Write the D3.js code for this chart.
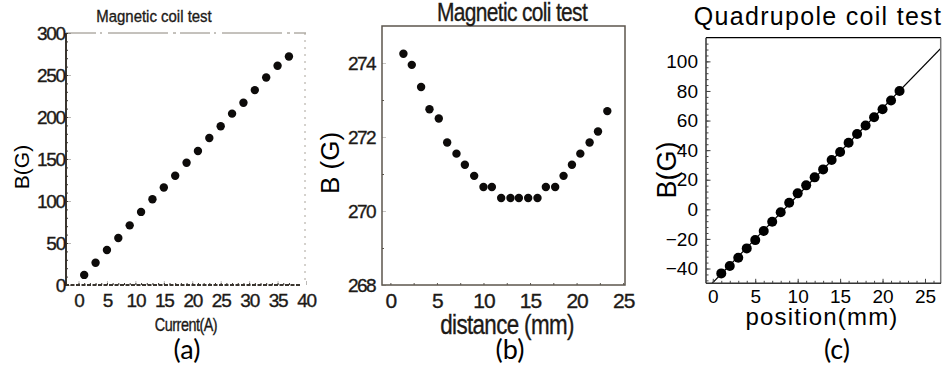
<!DOCTYPE html>
<html>
<head>
<meta charset="utf-8">
<script src="https://cdn.jsdelivr.net/npm/d3@7"></script>
<style>
  body { margin: 0; background: #fff; }
  .scan { font-family: "Liberation Sans", Arial, sans-serif; fill: #1d1a17; stroke: #1d1a17; stroke-width: 0.35; }
  .plain { font-family: "Liberation Sans", Arial, sans-serif; fill: #000; }
  .tag { font-family: Lato, "Open Sans", sans-serif; fill: #000; }
</style>
</head>
<body>
<script>
// (a) field vs coil current
var currentA = [1, 3, 5, 7, 9, 11, 13, 15, 17, 19, 21, 23, 25, 27, 29, 31, 33, 35, 37];
var fieldA = [12, 26.5, 41.7, 56, 71, 87, 102, 116, 130, 145.5, 159.5, 175, 189, 204, 217, 232, 247, 261, 272];
var ticksAx = [0, 5, 10, 15, 20, 25, 30, 35, 40];
var ticksAy = [0, 50, 100, 150, 200, 250, 300];

// (b) field along the axis
var distB = [1.4, 2.3, 3.3, 4.2, 5.2, 6.1, 7.1, 8.0, 9.0, 10.0, 10.9, 11.9,
             12.9, 13.8, 14.8, 15.8, 16.7, 17.7, 18.6, 19.5, 20.4, 21.4, 22.3, 23.3];
var fieldB = [274.25, 273.95, 273.35, 272.75, 272.5, 271.85, 271.55, 271.25, 270.95, 270.65, 270.65, 270.35,
              270.35, 270.35, 270.35, 270.35, 270.65, 270.65, 270.95, 271.25, 271.55, 271.85, 272.15, 272.7];
var ticksBx = [0, 5, 10, 15, 20, 25];
var ticksBy = [268, 270, 272, 274];

// (c) quadrupole gradient
var posC = [1, 2, 3, 4, 5, 6, 7, 8, 9, 10, 11, 12, 13, 14, 15, 16, 17, 18, 19, 20, 21, 22];
var fieldC = [-43.3, -38.3, -32.7, -26.4, -20.8, -14.7, -8.4, -2.0, 4.5, 10.8, 16.2, 21.6,
              27.0, 33.3, 38.8, 45.0, 50.9, 56.6, 62.2, 67.6, 73.5, 80.0];
var ticksCx = [0, 5, 10, 15, 20, 25];
var ticksCy = [-40, -20, 0, 20, 40, 60, 80, 100];

var intFmt = d3.format("d");

var svg = d3.select("body").append("svg")
    .attr("width", 952)
    .attr("height", 374);

function styleAxis(g, color) {
  g.select(".domain").remove();
  g.selectAll(".tick line").attr("stroke", color);
  g.selectAll(".tick text").attr("fill", null);
  g.attr("font-family", null).attr("font-size", null);
}

// squeezed label, like the old scanned plots
function narrowText(g, x, y, size, sx, str) {
  return g.append("text").attr("class", "scan")
      .attr("transform", "translate(" + x + "," + y + ") scale(" + sx + ",1)")
      .attr("text-anchor", "middle")
      .attr("font-size", size)
      .text(str);
}

// ---------- panel (a) ----------
var xA = d3.scaleLinear().domain([-2.2, 40]).range([66, 306]);
var yA = d3.scaleLinear().domain([0, 300]).range([285, 33]);
var gA = svg.append("g");
var colA = "#3a352f";

// faint dotted top/right edges, solid left/bottom
gA.append("line").attr("x1", 66).attr("x2", 306).attr("y1", 33).attr("y2", 33)
    .attr("stroke", "#8a847b").attr("stroke-width", 1).attr("stroke-dasharray", "30,4,2,6,60,5,3,4");
gA.append("line").attr("x1", 305).attr("x2", 305).attr("y1", 33).attr("y2", 285)
    .attr("stroke", "#aaa49b").attr("stroke-width", 1).attr("stroke-dasharray", "2,5");
gA.append("line").attr("x1", 66).attr("x2", 66).attr("y1", 33).attr("y2", 286)
    .attr("stroke", colA).attr("stroke-width", 2);
gA.append("line").attr("x1", 65).attr("x2", 300).attr("y1", 285).attr("y2", 285)
    .attr("stroke", colA).attr("stroke-width", 2).attr("stroke-dasharray", "4,1.5");

gA.append("g").attr("transform", "translate(66,0)")
    .call(d3.axisLeft(yA).tickValues(d3.range(0, 301, 10)).tickSize(-2).tickFormat(""))
    .call(styleAxis, colA);
gA.append("g").attr("transform", "translate(66,0)").attr("class", "scan")
    .call(d3.axisLeft(yA).tickValues(ticksAy).tickSize(-5).tickPadding(1).tickFormat(intFmt))
    .call(styleAxis, colA)
    .selectAll("text").attr("font-size", 19).attr("letter-spacing", -1.2);
gA.append("g").attr("transform", "translate(0,285)")
    .call(d3.axisBottom(xA).tickValues(d3.range(0, 38, 1)).tickSize(-2).tickFormat(""))
    .call(styleAxis, colA);
gA.append("g").attr("transform", "translate(0,285)").attr("class", "scan")
    .call(d3.axisBottom(xA).tickValues(ticksAx).tickSize(-4).tickPadding(9).tickFormat(intFmt))
    .call(styleAxis, colA)
    .selectAll("text").attr("font-size", 19).attr("letter-spacing", -1.2);

gA.selectAll(".dot").data(currentA).enter().append("circle")
    .attr("cx", function(d) { return xA(d); })
    .attr("cy", function(d, i) { return yA(fieldA[i]); })
    .attr("r", 4.2)
    .attr("fill", "#0d0b0a");

narrowText(gA, 154, 22, 17, 0.88, "Magnetic coil test");
narrowText(gA, 186, 331, 18, 0.8, "Current(A)").attr("letter-spacing", -0.6);
gA.append("text").attr("class", "plain")
    .attr("transform", "translate(29,167) rotate(-90)")
    .attr("text-anchor", "middle").attr("font-size", 21)
    .text("B(G)");

// ---------- panel (b) ----------
var xB = d3.scaleLinear().domain([-0.9, 25.2]).range([382, 625]);
var yB = d3.scaleLinear().domain([268, 275]).range([285, 26]);
var gB = svg.append("g");
var colB = "#5c564d";

gB.append("rect").attr("x", 382).attr("y", 26).attr("width", 243).attr("height", 259)
    .attr("fill", "none").attr("stroke", colB).attr("stroke-width", 1.5);

gB.append("g").attr("transform", "translate(382,0)")
    .call(d3.axisLeft(yB).tickValues([269, 271, 273]).tickSize(-2).tickFormat(""))
    .call(styleAxis, colB);
gB.append("g").attr("transform", "translate(382,0)").attr("class", "scan")
    .call(d3.axisLeft(yB).tickValues(ticksBy).tickSize(-4).tickPadding(7).tickFormat(intFmt))
    .call(styleAxis, colB)
    .selectAll("text").attr("font-size", 19).attr("letter-spacing", -1.6);
gB.append("g").attr("transform", "translate(0,285)")
    .call(d3.axisBottom(xB).tickValues(d3.range(0, 26, 2.5)).tickSize(-2).tickFormat(""))
    .call(styleAxis, colB);
gB.append("g").attr("transform", "translate(0,285)").attr("class", "scan")
    .call(d3.axisBottom(xB).tickValues(ticksBx).tickSize(0).tickPadding(8).tickFormat(intFmt))
    .call(styleAxis, colB)
    .selectAll("text").attr("font-size", 21).attr("letter-spacing", -1);

gB.selectAll(".dot").data(distB).enter().append("circle")
    .attr("cx", function(d) { return xB(d); })
    .attr("cy", function(d, i) { return yB(fieldB[i]); })
    .attr("r", 4.2)
    .attr("fill", "#0d0b0a");

narrowText(gB, 512, 21, 25, 0.84, "Magnetic coli test").attr("letter-spacing", -0.8);
narrowText(gB, 507, 334, 28, 0.8, "distance (mm)").attr("letter-spacing", -0.8);
gB.append("text").attr("class", "plain")
    .attr("transform", "translate(339,163) rotate(-90)")
    .attr("text-anchor", "middle").attr("font-size", 26)
    .text("B (G)");

// ---------- panel (c) ----------
var xC = d3.scaleLinear().domain([-0.8, 26.85]).range([706, 940.7]);
var yC = d3.scaleLinear().domain([-50, 116]).range([283.3, 37.7]);
var gC = svg.append("g");

// least-squares line through the points
var mx = d3.mean(posC), my = d3.mean(fieldC);
var slope = d3.sum(posC, function(d, i) { return (d - mx) * (fieldC[i] - my); }) /
            d3.sum(posC, function(d) { return (d - mx) * (d - mx); });
var icpt = my - slope * mx;

svg.append("clipPath").attr("id", "clipC").append("rect")
    .attr("x", 706).attr("y", 37.7).attr("width", 234.7).attr("height", 245.6);
gC.append("line").attr("clip-path", "url(#clipC)")
    .attr("x1", xC(-0.8)).attr("y1", yC(icpt + slope * -0.8))
    .attr("x2", xC(26.85)).attr("y2", yC(icpt + slope * 26.85))
    .attr("stroke", "#000").attr("stroke-width", 1.2);

gC.append("line").attr("x1", 706).attr("x2", 941).attr("y1", 37.7).attr("y2", 37.7)
    .attr("stroke", "#000").attr("stroke-width", 1.2);
gC.append("line").attr("x1", 940.7).attr("x2", 940.7).attr("y1", 37.7).attr("y2", 283.3)
    .attr("stroke", "#777").attr("stroke-width", 1.5);
gC.append("line").attr("x1", 706).attr("x2", 706).attr("y1", 37.7).attr("y2", 283.3)
    .attr("stroke", "#333").attr("stroke-width", 1.5);
gC.append("line").attr("x1", 706).attr("x2", 941).attr("y1", 283.3).attr("y2", 283.3)
    .attr("stroke", "#333").attr("stroke-width", 1.5);

gC.append("g").attr("transform", "translate(706,0)")
    .call(d3.axisLeft(yC).tickValues(d3.range(-48, 116, 4)).tickSize(-2.5).tickFormat(""))
    .call(styleAxis, "#444");
gC.append("g").attr("transform", "translate(706,0)").attr("class", "plain")
    .call(d3.axisLeft(yC).tickValues(ticksCy).tickSize(-4.5).tickPadding(8).tickFormat(intFmt))
    .call(styleAxis, "#444")
    .selectAll("text").attr("font-size", 19);
gC.append("g").attr("transform", "translate(0,283.3)")
    .call(d3.axisBottom(xC).tickValues(d3.range(0, 27, 1)).tickSize(-2.5).tickFormat(""))
    .call(styleAxis, "#444");
gC.append("g").attr("transform", "translate(0,283.3)").attr("class", "plain")
    .call(d3.axisBottom(xC).tickValues(ticksCx).tickSize(-4.5).tickPadding(6).tickFormat(intFmt))
    .call(styleAxis, "#444")
    .selectAll("text").attr("font-size", 19);

gC.selectAll(".dot").data(posC).enter().append("circle")
    .attr("cx", function(d) { return xC(d); })
    .attr("cy", function(d, i) { return yC(fieldC[i]); })
    .attr("r", 5)
    .attr("fill", "#000");

gC.append("text").attr("class", "plain").attr("x", 818).attr("y", 25)
    .attr("text-anchor", "middle").attr("font-size", 25).attr("letter-spacing", 1.3)
    .text("Quadrupole coil test");
gC.append("text").attr("class", "plain").attr("x", 822).attr("y", 325)
    .attr("text-anchor", "middle").attr("font-size", 24).attr("letter-spacing", 1.2)
    .text("position(mm)");
gC.append("text").attr("class", "plain")
    .attr("transform", "translate(676,170) rotate(-90)")
    .attr("text-anchor", "middle").attr("font-size", 27)
    .text("B(G)");

// panel tags
var tags = [["(a)", 187], ["(b)", 510], ["(c)", 837]];
svg.selectAll(".tag").data(tags).enter().append("text")
    .attr("class", "tag")
    .attr("x", function(d) { return d[1]; })
    .attr("y", 359)
    .attr("text-anchor", "middle")
    .attr("font-size", 27)
    .text(function(d) { return d[0]; });
</script>
</body>
</html>
